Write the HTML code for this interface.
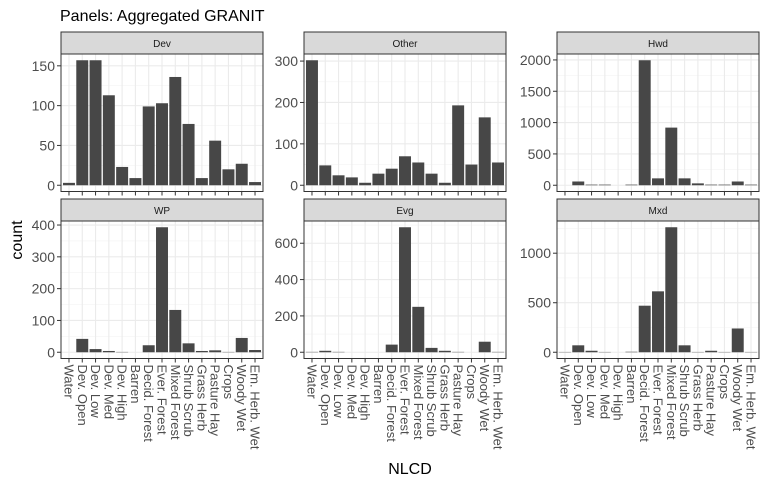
<!DOCTYPE html>
<html><head><meta charset="utf-8"><style>
body{margin:0;background:#fff}
svg{display:block;font-family:"Liberation Sans",Arial,sans-serif}
</style></head><body>
<svg id="chart" width="768" height="480" viewBox="0 0 768 480">
<text x="60" y="21" font-size="16" fill="#000">Panels: Aggregated GRANIT</text>
<text transform="translate(22,240) rotate(-90)" text-anchor="middle" font-size="16" fill="#000">count</text>
<text x="410" y="474" text-anchor="middle" font-size="16" fill="#000">NLCD</text>
</svg>
<script>
const categories=["Water","Dev. Open","Dev. Low","Dev. Med","Dev. High","Barren","Decid. Forest","Ever. Forest","Mixed Forest","Shrub Scrub","Grass Herb","Pasture Hay","Crops","Woody Wet","Em. Herb. Wet"];
const panelNames=["Dev","Other","Hwd","WP","Evg","Mxd"];
const devValues=[3,157,157,113,23,9,99,103,136,77,9,56,20,27,4];
const otherValues=[302,48,24,19,6,28,40,70,55,28,6,193,50,164,55];
const hwdValues=[0,60,10,10,0,10,1995,110,920,110,30,10,10,60,10];
const wpValues=[0,42,10,4,1,0,22,393,133,28,4,6,1,45,7];
const evgValues=[2,8,2,0,0,0,42,688,250,24,8,2,0,58,2];
const mxdValues=[3,70,15,3,0,5,470,615,1262,70,3,15,3,240,3];
const devTicks=[0,50,100,150];
const otherTicks=[0,100,200,300];
const hwdTicks=[0,500,1000,1500,2000];
const wpTicks=[0,100,200,300,400];
const evgTicks=[0,200,400,600];
const mxdTicks=[0,500,1000];

const seriesList=[devValues,otherValues,hwdValues,wpValues,evgValues,mxdValues];
const tickList=[devTicks,otherTicks,hwdTicks,wpTicks,evgTicks,mxdTicks];
const NS="http://www.w3.org/2000/svg";
const svg=document.getElementById('chart');
const colX=[61,304,557], colW=202;
const rowY=[32,199], stripH=22, plotH=137.5;
function mk(tag,attrs,parent){const e=document.createElementNS(NS,tag);for(const k in attrs)e.setAttribute(k,attrs[k]);(parent||svg).appendChild(e);return e;}

for(let p=0;p<6;p++){
  const col=p%3,row=Math.floor(p/3);
  const x0=colX[col],top=rowY[row],py=top+stripH,pb=py+plotH;
  const vals=seriesList[p],ticks=tickList[p];
  const mx=Math.max(...vals);
  const lo=-0.05*mx,hi=1.05*mx;
  const yS=v=>pb-(v-lo)/(hi-lo)*plotH;
  const n=categories.length,bw=colW/(n-1+1.2);
  const xS=i=>x0+(0.6+i)*bw;
  const g=mk('g',{});
  
  
  const bg=mk('rect',{x:x0,y:py,width:colW,height:plotH,fill:'#fff'},g);
  
  
  // minor grid
  const step=ticks[1]-ticks[0];
  for(let t=ticks[0]-step/2;t<=hi+step;t+=step){const y=yS(t);if(y>py&&y<pb){const l=mk('line',{x1:x0,x2:x0+colW,y1:y,y2:y,stroke:'#f3f3f3','stroke-width':0.6},g);}}
  ticks.forEach(t=>{const y=yS(t);const l=mk('line',{x1:x0,x2:x0+colW,y1:y,y2:y,stroke:'#ebebeb','stroke-width':1.1},g);});
  for(let i=0;i<n;i++){const l=mk('line',{x1:xS(i),x2:xS(i),y1:py,y2:pb,stroke:'#ebebeb','stroke-width':1.1},g);}
  vals.forEach((v,i)=>{const w=bw*0.9;const r=mk('rect',{x:xS(i)-w/2,y:yS(v),width:w,height:Math.max(0,yS(0)-yS(v)),fill:'#474747'},g);});
  const bd=mk('rect',{x:x0,y:py,width:colW,height:plotH,fill:'none',stroke:'#333','stroke-width':1},g);
  
  
  const st=mk('rect',{x:x0,y:top,width:colW,height:stripH,fill:'#d9d9d9',stroke:'#333','stroke-width':1},g);
  
  
  const stt=mk('text',{x:x0+colW/2,y:top+15,'text-anchor':'middle','font-size':10,fill:'#1a1a1a'},g);
  stt.textContent=panelNames[p];
  
  
  ticks.forEach(t=>{const y=yS(t);const tl=mk('line',{x1:x0-4,x2:x0,y1:y,y2:y,stroke:'#333','stroke-width':1},g);
    const tx=mk('text',{x:x0-6,y:y+5,'text-anchor':'end','font-size':14,fill:'#4d4d4d'},g);tx.textContent=t;});
  for(let i=0;i<n;i++){const tl=mk('line',{x1:xS(i),x2:xS(i),y1:pb,y2:pb+4,stroke:'#333','stroke-width':1},g);
    if(row===1){const tx=mk('text',{transform:'translate('+(xS(i)-4.5)+','+(pb+6)+') rotate(90)','font-size':13,fill:'#4d4d4d'},g);tx.textContent=categories[i];}}
}
</script>
</body></html>
